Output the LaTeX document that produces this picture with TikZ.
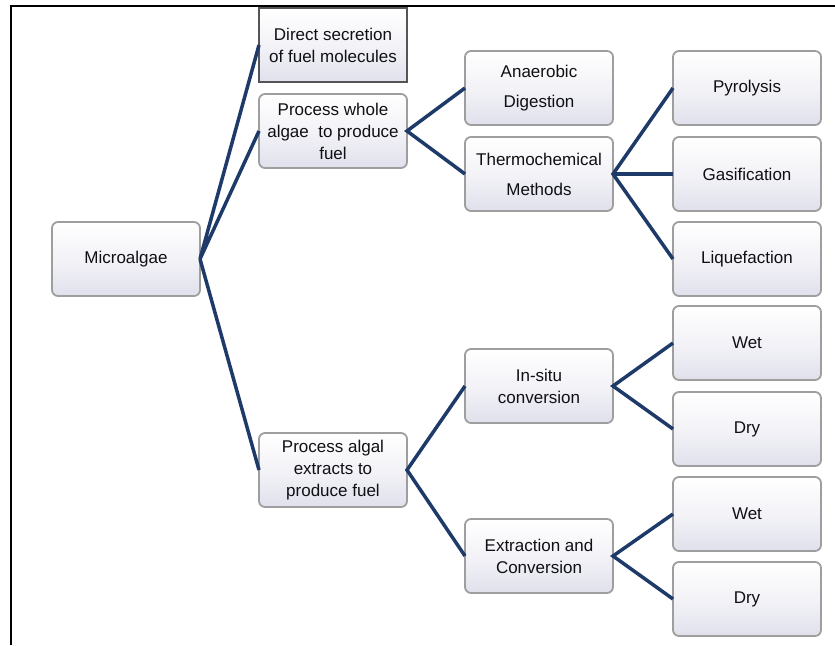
\documentclass[tikz,border=0pt]{standalone}
\usepackage{fontspec}
\setmainfont{Liberation Sans}
\definecolor{navy}{RGB}{30,58,104}
\definecolor{boxline}{RGB}{158,158,158}
\definecolor{lav}{RGB}{224,224,236}
\definecolor{txt}{RGB}{15,15,20}
\begin{document}
\begin{tikzpicture}[x=1pt,y=-1pt,
  box/.style={draw=boxline, line width=1.8pt, rounded corners=6pt,
    top color=white, bottom color=lav, middle color=white!60!lav,
    minimum width=148pt, minimum height=74pt, inner sep=2pt, outer sep=0pt,
    align=center, font=\fontsize{17pt}{22pt}\selectfont, text=txt},
  sqbox/.style={box, rounded corners=0pt, draw={rgb,255:red,85;green,85;blue,85}, line width=2pt},
  link/.style={draw=navy, line width=3.5pt}]
\useasboundingbox (0,0) rectangle (835,645);
% frame
\draw[line width=2pt, black] (11,645) -- (11,6) -- (835,6);
% nodes
\node[box] (micro) at (126,259) {Microalgae};
\node[sqbox] (direct) at (333,45) {Direct secretion\\of fuel molecules};
\node[box] (whole) at (333,131) {Process whole\\algae\ \ to produce\\fuel};
\node[box] (extr) at (333,470) {Process algal\\extracts to\\produce fuel};
\node[box] (anae) at (539,88) {Anaerobic\\[8pt]Digestion};
\node[box] (thermo) at (539,174) {Thermochemical\\[8pt]Methods};
\node[box] (pyro) at (747,88) {Pyrolysis};
\node[box] (gasi) at (747,174) {Gasification};
\node[box] (lique) at (747,259) {Liquefaction};
\node[box] (insitu) at (539,386) {In-situ\\conversion};
\node[box] (extconv) at (539,556) {Extraction and\\Conversion};
\node[box] (wet1) at (747,343) {Wet};
\node[box] (dry1) at (747,429) {Dry};
\node[box] (wet2) at (747,514) {Wet};
\node[box] (dry2) at (747,599) {Dry};
% connectors
\draw[link] (direct.west) -- (micro.east) -- (whole.west);
\draw[link] (micro.east) -- (extr.west);
\draw[link] (anae.west) -- (whole.east) -- (thermo.west);
\draw[link] (pyro.west) -- (thermo.east) -- (lique.west);
\draw[link] (thermo.east) -- (gasi.west);
\draw[link] (wet1.west) -- (insitu.east) -- (dry1.west);
\draw[link] (insitu.west) -- (extr.east) -- (extconv.west);
\draw[link] (wet2.west) -- (extconv.east) -- (dry2.west);
\end{tikzpicture}
\end{document}
